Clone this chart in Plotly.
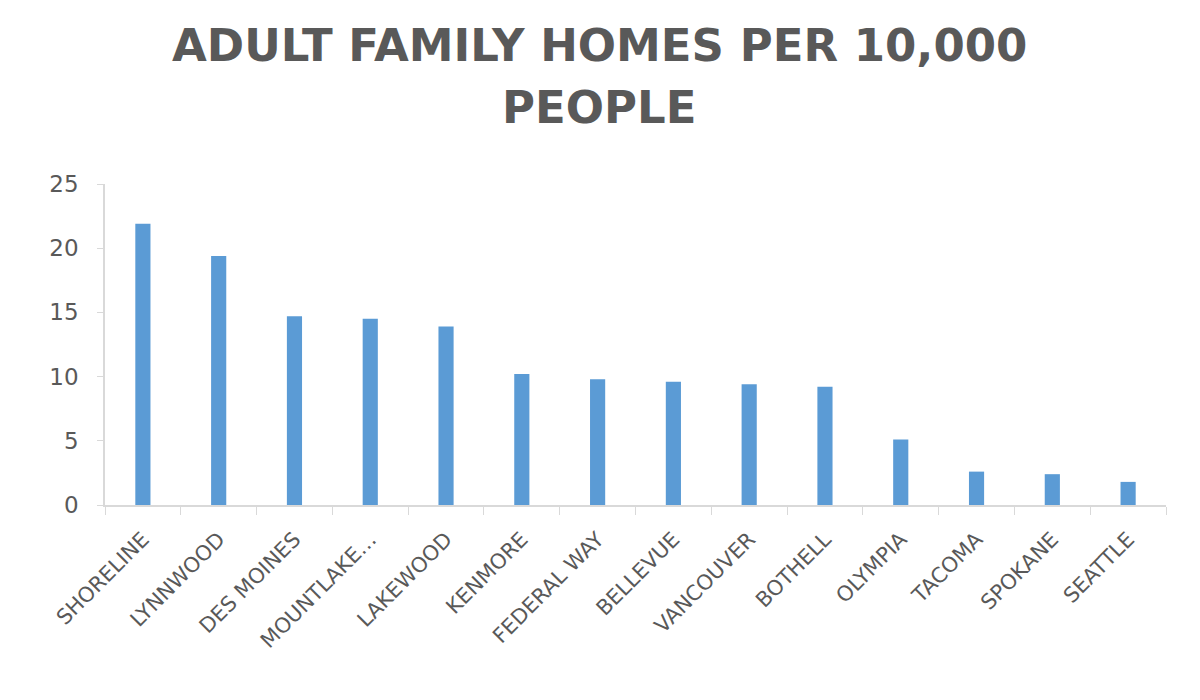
import plotly.graph_objects as go

cities = ["SHORELINE", "LYNNWOOD", "DES MOINES", "MOUNTLAKE…", "LAKEWOOD", "KENMORE",
          "FEDERAL WAY", "BELLEVUE", "VANCOUVER", "BOTHELL", "OLYMPIA", "TACOMA",
          "SPOKANE", "SEATTLE"]
homes_per_10k = [21.9, 19.4, 14.7, 14.5, 13.9, 10.2, 9.8, 9.6, 9.4, 9.2, 5.1, 2.6, 2.4, 1.8]
y_ticks = [0, 5, 10, 15, 20, 25]
title_lines = ["ADULT FAMILY HOMES PER 10,000", "PEOPLE"]

fig = go.Figure(go.Bar(x=cities, y=homes_per_10k, marker_color="#5B9BD5",
                       marker_line_width=0, width=0.2))

# plot area: x 105..1166, 321 px tall (t=184, b=195); title centred at x~599, lines at ~45/108 px
for line, ypaper in zip(title_lines, [(505 - 45) / 321, (505 - 108) / 321]):
    fig.add_annotation(text="<b>" + line + "</b>", xref="paper", yref="paper",
                       x=(599 - 105) / 1061, y=ypaper, xanchor="center", yanchor="middle",
                       showarrow=False,
                       font=dict(family="DejaVu Sans", size=45, color="#595959"))

fig.update_layout(
    width=1200, height=700,
    paper_bgcolor="white", plot_bgcolor="white",
    margin=dict(l=105, r=34, t=184, b=195),
    showlegend=False,
    font=dict(family="DejaVu Sans", color="#595959"),
)
fig.update_xaxes(type="category", showline=True, linecolor="#D9D9D9", linewidth=1.5,
                 ticks="outside", tickson="boundaries", ticklen=8, tickcolor="#D9D9D9",
                 tickangle=-45, tickfont=dict(size=21, color="#595959"), showgrid=False,
                 ticklabelstandoff=12)
fig.update_yaxes(range=[0, 25], tickvals=y_ticks, showline=True, linecolor="#D9D9D9",
                 linewidth=1.5, ticks="outside", ticklen=6, tickcolor="#D9D9D9",
                 tickfont=dict(size=23, color="#595959"), showgrid=False, zeroline=False,
                 ticklabelstandoff=14)

fig.write_html("out.html")
